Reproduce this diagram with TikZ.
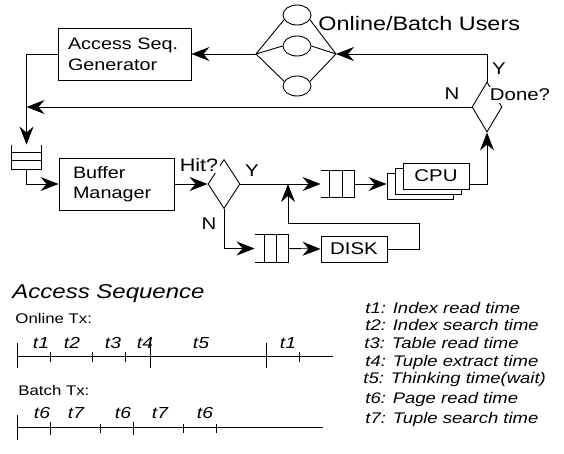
\documentclass[tikz,border=0pt]{standalone}
\usepackage{fontspec}
\setmainfont{Liberation Sans}[FakeStretch=1.2]
\usetikzlibrary{arrows.meta,shapes.geometric}

\begin{document}
\begin{tikzpicture}[x=1pt,y=-1pt,line width=0.9pt,
  arr/.style={-{Stealth[length=18pt,width=14pt,inset=6pt]}},
  blk/.style={draw,rectangle,inner sep=0pt},
  lbl/.style={inner sep=0pt,font=\fontsize{17}{21}\selectfont},
  que/.style={rectangle,inner sep=0pt,draw=none},
  usr/.style={draw,ellipse,inner sep=0pt,minimum width=28pt,minimum height=20pt},
  dec/.style={draw,diamond,inner sep=0pt},
  tl/.style={anchor=base,inner sep=0pt,font=\fontsize{16}{18}\selectfont\itshape},
  leg/.style={anchor=west,inner sep=0pt,font=\fontsize{15.4}{18}\selectfont\itshape}
]
\useasboundingbox (0,0) rectangle (564,453);

% ---- blocks ----
\node[blk,minimum width=133pt,minimum height=52pt,text width=113pt,align=left,
      font=\fontsize{16.5}{21}\selectfont] (asg) at (124.5,54) {Access Seq.\\Generator};
\node[blk,minimum width=115pt,minimum height=52pt,text width=87pt,align=left,
      font=\fontsize{16.5}{20}\selectfont] (bm) at (116.5,184) {Buffer\\Manager};

% stacked CPUs
\node[blk,fill=white,minimum width=66pt,minimum height=26pt] (cpu3) at (420,186) {};
\node[blk,fill=white,minimum width=66pt,minimum height=26pt] (cpu2) at (428,181) {};
\node[blk,fill=white,minimum width=66pt,minimum height=26pt,
      font=\fontsize{17}{20}\selectfont] (cpu) at (436,176) {CPU};

\node[blk,minimum width=66pt,minimum height=26pt,
      font=\fontsize{17}{20}\selectfont] (disk) at (354,249) {DISK};

% decisions
\node[dec,minimum width=32pt,minimum height=49pt] (hit) at (224,184) {};
\node[dec,minimum width=30pt,minimum height=50pt] (done) at (487,107) {};

% queues
\node[que,minimum width=29pt,minimum height=24pt] (q1) at (26.5,157) {};
\node[que,minimum width=33pt,minimum height=26pt] (q2) at (337.5,184) {};
\node[que,minimum width=33pt,minimum height=27pt] (q3) at (271.5,248.5) {};

% input queue (open at the top)
\draw (q1.north west) -- (q1.south west) -- (q1.south east) -- (q1.north east);
\draw ([yshift=-8pt]q1.north west) -- ([yshift=-8pt]q1.north east);
\draw ([yshift=-16pt]q1.north west) -- ([yshift=-16pt]q1.north east);
% CPU queue (open at the left)
\draw (q2.north west) -- (q2.north east) -- (q2.south east) -- (q2.south west);
\draw ([xshift=9pt]q2.north west) -- ([xshift=9pt]q2.south west);
\draw ([xshift=22pt]q2.north west) -- ([xshift=22pt]q2.south west);
% disk queue (open at the left)
\draw (q3.north west) -- (q3.north east) -- (q3.south east) -- (q3.south west);
\draw ([xshift=10pt]q3.north west) -- ([xshift=10pt]q3.south west);
\draw ([xshift=22pt]q3.north west) -- ([xshift=22pt]q3.south west);

% users
\node[usr] (u1) at (297,15) {};
\node[usr] (u2) at (297,46) {};
\node[usr] (u3) at (297,86) {};
\coordinate (ul) at (256,54);
\coordinate (ur) at (336,54);
\draw (ul) -- (u1.200) (ul) -- (u2.west) (ul) -- (u3.160);
\draw (ur) -- (u1.340) (ur) -- (u2.east) (ur) -- (u3.20);

% ---- connectors ----
\coordinate (j) at (288,184);
\coordinate (dr) at (419,223);
\draw[arr] (ul) -- (asg.east);
\draw[arr] (asg.west) -| (q1.north);
\draw[arr] (done.west) -- (done.west -| q1.north);
\draw[arr] (q1.south) |- (bm.west);
\draw[arr] (bm.east) -- (hit.west);
\draw[arr] (hit.east) -- (q2.west);
\draw[arr] (q2.east) -- (q2.east -| cpu3.west);
\draw[arr] (cpu.east |- q2.east) -| (done.south);
\draw[arr] (done.north) |- (ur);
\draw[arr] (hit.south) |- (q3.west);
\draw[arr] (q3.east) -- (disk.west);
\draw[arr] (disk.east) -| (dr) -| (j);

% ---- labels ----
\node[lbl,fill=white,inner sep=1.5pt,font=\fontsize{18}{20}\selectfont] (hitq) at (199,165) {Hit?};
\node[lbl] (hy) at (252,171) {Y};
\node[lbl] (hn) at (209,224) {N};
\node[lbl,fill=white,inner sep=2pt] (doneq) at (520,95) {Done?};
\node[lbl] (dy) at (499,69) {Y};
\node[lbl] (dn) at (452,94) {N};
\node[lbl,anchor=west,font=\fontsize{19.5}{22}\selectfont] (users) at (318,24) {Online/Batch Users};

% ---- access sequence ----
\node[anchor=base west,inner sep=0pt,font=\fontsize{20}{22}\selectfont\itshape] (accseq) at (12,298) {Access Sequence};
\node[anchor=base west,inner sep=0pt,font=\fontsize{14}{18}\selectfont] (onl) at (15,323) {Online Tx:};
\node[anchor=base west,inner sep=0pt,font=\fontsize{14}{18}\selectfont] (bat) at (18,395) {Batch Tx:};

% online timeline
\draw (17,356) -- (333,356);
\foreach \x in {17,150,266} \draw (\x,343) -- (\x,368);
\foreach \x in {50,92,125,299} \draw (\x,352) -- (\x,362);
\foreach \x/\t [count=\i] in {41/t1,72/t2,113/t3,145/t4,201/t5,288/t1}
  \node[tl] (ot\i) at (\x,348) {\t};

% batch timeline
\draw (17,427) -- (323,427);
\draw (17,415) -- (17,440);
\foreach \x in {50,133} \draw (\x,422) -- (\x,435);
\foreach \x in {100,183,216} \draw (\x,424) -- (\x,433);
\foreach \x/\t [count=\i] in {42/t6,76/t7,123/t6,160/t7,205/t6}
  \node[tl] (bt\i) at (\x,418) {\t};

% legend
\node[leg] (l1) at (365,308) {t1: Index read time};
\node[leg] (l2) at (365,325) {t2: Index search time};
\node[leg] (l3) at (364,343) {t3: Table read time};
\node[leg] (l4) at (365,363) {t4: Tuple extract time};
\node[leg] (l5) at (363,380) {t5: Thinking time(wait)};
\node[leg] (l6) at (365,400) {t6: Page read time};
\node[leg] (l7) at (365,420) {t7: Tuple search time};
\end{tikzpicture}
\end{document}
